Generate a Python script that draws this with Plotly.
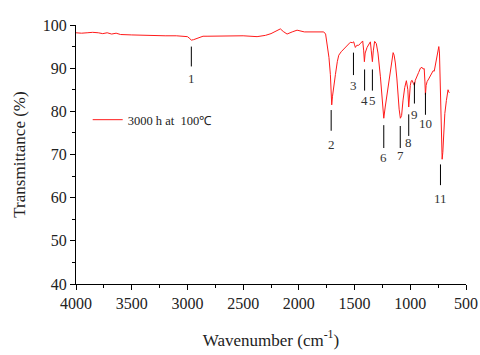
import plotly.graph_objects as go

# FTIR spectrum
wavenumber = [4000, 3950, 3900, 3850, 3800, 3760, 3720, 3680, 3640, 3600, 3500, 3400, 3300,
              3200, 3100, 3050, 3000, 2985, 2965, 2945, 2920, 2900, 2860, 2824, 2700,
              2600, 2500, 2375, 2300, 2250, 2200, 2166, 2140, 2106, 2060, 2016, 1950,
              1850, 1777, 1760, 1745, 1730, 1717, 1710, 1705, 1698, 1685, 1672, 1655,
              1642, 1620, 1600, 1570, 1538, 1520, 1508, 1500, 1493, 1480, 1463, 1445,
              1427, 1418, 1412, 1405, 1395, 1388, 1370, 1358, 1350, 1340, 1332, 1320,
              1305, 1290, 1268, 1250, 1238, 1225, 1208, 1190, 1178, 1165, 1154, 1145,
              1134, 1120, 1113, 1100, 1089, 1078, 1065, 1050, 1035, 1022, 1014, 1007,
              1000, 992, 984, 973, 963, 955, 945, 925, 909, 895, 885, 875, 869, 864,
              858, 849, 835, 819, 805, 795, 785, 774, 760, 744, 738, 729, 720, 714,
              708, 700, 690, 676, 661, 655, 649]
transmittance = [98.2, 98.1, 98.2, 98.3, 98.2, 98.0, 98.2, 97.9, 98.1, 97.8, 97.7, 97.6, 97.6,
                 97.5, 97.5, 97.4, 97.3, 97.0, 96.5, 96.6, 96.8, 97.0, 97.4, 97.4, 97.5,
                 97.5, 97.5, 97.3, 97.6, 98.0, 98.6, 99.1, 98.5, 97.9, 98.4, 98.8, 98.4,
                 98.3, 98.4, 97.9, 95.5, 92.5, 88.5, 84.0, 81.5, 83.5, 86.5, 88.5, 91.5,
                 93.0, 93.8, 94.3, 95.0, 96.0, 95.9, 96.1, 95.4, 94.8, 95.3, 95.3, 95.8,
                 96.3, 94.0, 91.5, 93.5, 94.5, 94.8, 95.6, 96.1, 94.0, 91.5, 94.0, 96.2,
                 95.7, 93.5, 88.0, 82.5, 78.4, 81.0, 84.0, 88.0, 90.3, 92.5, 93.6, 93.0,
                 91.2, 87.5, 84.3, 80.5, 78.4, 79.0, 82.6, 85.5, 87.1, 85.0, 81.0, 84.5,
                 86.0, 87.0, 87.2, 86.5, 86.0, 87.2, 87.7, 89.0, 90.0, 90.2, 89.8, 89.9,
                 87.0, 83.8, 86.0, 86.9, 87.5, 88.4, 89.0, 89.4, 89.3, 91.1, 93.0, 95.0,
                 93.5, 82.6, 76.0, 68.9, 70.5, 75.6, 79.5, 82.5, 85.0, 84.5, 84.3]

# peak markers: position, label and vertical tick extent
peak_labels = ["1", "2", "3", "4", "5", "6", "7", "8", "9", "10", "11"]
peak_wn = [2965, 1710, 1510, 1410, 1340, 1238, 1090, 1014, 963, 864, 729]
peak_top = [95.0, 80.3, 93.6, 89.7, 89.7, 76.8, 76.6, 79.3, 86.7, 84.3, 67.7]
peak_bottom = [90.4, 75.5, 88.4, 84.8, 84.8, 71.5, 71.5, 74.3, 81.8, 79.2, 62.9]
label_y = [87.6, 72.4, 86.0, 82.6, 82.6, 69.3, 69.8, 72.8, 79.3, 77.2, 59.9]

serif = 'Liberation Serif, Times New Roman, serif'

fig = go.Figure()

fig.add_trace(go.Scatter(x=wavenumber, y=transmittance, mode='lines',
                         line=dict(color='#ff1a1a', width=1),
                         name='3000 h at  100℃'))

for w, lab, t, b, ly in zip(peak_wn, peak_labels, peak_top, peak_bottom, label_y):
    fig.add_shape(type='line', x0=w, x1=w, y0=b, y1=t,
                  line=dict(color='black', width=1))
    fig.add_annotation(x=w, y=ly, text=lab, showarrow=False,
                       font=dict(family=serif, size=13, color='#333'))

fig.update_layout(
    width=480, height=355,
    margin=dict(l=76, r=14, t=25, b=71),
    paper_bgcolor='white', plot_bgcolor='white',
    font=dict(family=serif, size=16, color='#222'),
    showlegend=True,
    legend=dict(x=0.03, y=0.633, xanchor='left', yanchor='middle',
                bgcolor='rgba(0,0,0,0)', font=dict(size=12.5)),
)
fig.update_xaxes(range=[4000, 500], dtick=500, showgrid=False, zeroline=False,
                 automargin=False,
                 showline=True, linecolor='black', linewidth=1,
                 ticks='outside', ticklen=5, tickcolor='black',
                 minor=dict(ticks='outside', ticklen=3, dtick=250, tickcolor='black'),
                 title=dict(text='Wavenumber (cm<sup>-1</sup>)', standoff=22,
                            font=dict(size=17)))
fig.update_yaxes(range=[40, 100], dtick=10, showgrid=False, zeroline=False,
                 automargin=False,
                 showline=True, linecolor='black', linewidth=1,
                 ticks='outside', ticklen=5, tickcolor='black',
                 minor=dict(ticks='outside', ticklen=3, dtick=5, tickcolor='black'),
                 title=dict(text='Transmittance (%)', standoff=12,
                            font=dict(size=17)))

# drop the default body margin so the figure fills the window exactly
fig.write_html("out.html", config={'displayModeBar': False},
               post_script="document.body.style.margin='0';document.body.style.overflow='hidden';")
